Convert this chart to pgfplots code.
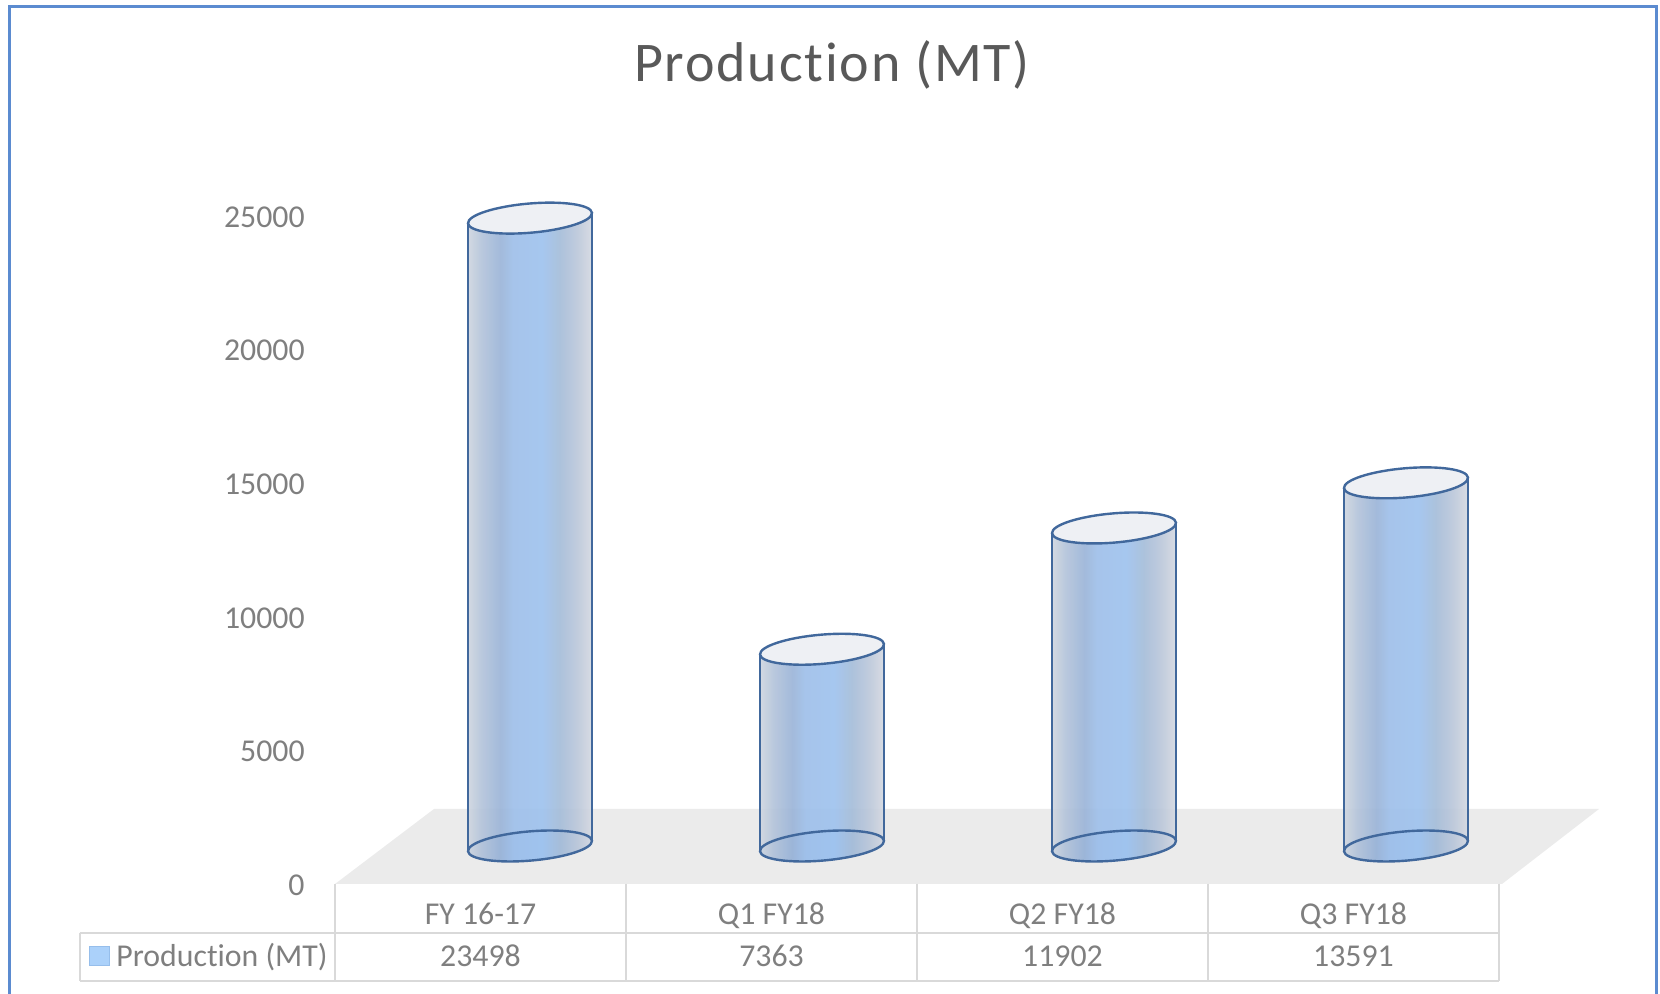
\documentclass[border=0pt]{standalone}
\usepackage{fontspec}
\setmainfont{Carlito}[Ligatures=NoCommon]
\newfontfamily\titlefont{Carlito}[LetterSpace=3.3,Ligatures=NoCommon]
\usepackage{pgfplots}
\pgfplotsset{compat=1.18}
\definecolor{txt}{HTML}{7F7F7F}
\definecolor{ttl}{HTML}{595959}
\definecolor{grid}{HTML}{D9D9D9}
\definecolor{floorc}{HTML}{EBEBEB}
\definecolor{frm}{HTML}{5B8BD0}
\definecolor{edge}{HTML}{41689C}
\definecolor{lid}{HTML}{EEF0F4}
\definecolor{swf}{HTML}{ABD1FA}
\definecolor{swd}{HTML}{96BEEB}
\definecolor{cA}{HTML}{CFD6E0}
\definecolor{cB}{HTML}{B4C4DA}
\definecolor{cC}{HTML}{9CB5D8}
\definecolor{cD}{HTML}{9FC0EA}
\definecolor{cE}{HTML}{9FC3EE}
\definecolor{cF}{HTML}{A6BDD9}
\definecolor{cG}{HTML}{BCC8DA}
\definecolor{cH}{HTML}{D5D9E2}
\pgfdeclarehorizontalshading{cyl}{100bp}{
  color(0bp)=(cA);
  color(25bp)=(cA);
  color(30.5bp)=(cB);
  color(38bp)=(cC);
  color(43.5bp)=(cD);
  color(55bp)=(cE);
  color(62bp)=(cF);
  color(69bp)=(cG);
  color(75bp)=(cH);
  color(100bp)=(cH)}
% Lid and foot of a cylinder: semi-axes 62.2 px and 14.6 px, tilted 4.9 degrees (1 px = 0.5 pt)
\pgfdeclareplotmark{lid}{%
  \pgfpathellipse{\pgfpointorigin}{\pgfpoint{30.99pt}{2.645pt}}{\pgfpoint{-0.62pt}{7.27pt}}%
  \pgfusepathqfillstroke}
\pgfdeclareplotmark{foot}{%
  \pgfpathellipse{\pgfpointorigin}{\pgfpoint{30.99pt}{2.645pt}}{\pgfpoint{-0.62pt}{7.27pt}}%
  \pgfshadepath{cyl}{0}%
  \pgfusepathqstroke}
\begin{document}
\begin{tikzpicture}
\path[use as bounding box] (0pt,0pt) rectangle (830pt,497pt);
\begin{scope}[x=0.5pt,y=-0.5pt,shift={(0pt,497pt)}]
  \fill[floorc] (335,884) -- (1502,884) -- (1599,809) -- (434,809) -- cycle;
  \draw[frm,line width=1.5pt] (9,994) -- (9,6.5) -- (1656,6.5) -- (1656,994);
  \draw[grid,line width=1pt] (79.5,933) -- (1499,933) (79.5,981) -- (1499,981)
    (79.5,933) -- (79.5,981)
    (335,884) -- (335,981) (626,884) -- (626,981) (917,884) -- (917,981)
    (1208,884) -- (1208,981) (1499,884) -- (1499,981);
  \filldraw[fill=swf,draw=swd,line width=0.5pt] (89,947) rectangle (109,966);
  \node[text=txt,font=\fontsize{15.9pt}{18pt}\selectfont,anchor=west,inner sep=0pt] at (116,957) {Production (MT)};
  \node[text=ttl,font=\titlefont\fontsize{28pt}{32pt}\selectfont,inner sep=0pt] at (832,65) {Production (MT)};
\end{scope}
\begin{axis}[
  at={(167.5pt,55pt)}, anchor=south west,
  scale only axis, width=582pt, height=353pt,
  xmin=-0.5, xmax=3.5, ymin=-1422, ymax=25000,
  axis line style={draw=none},
  clip=false,
  major tick length=0pt,
  xtick={0,1,2,3},
  xticklabels={FY 16-17,Q1 FY18,Q2 FY18,Q3 FY18},
  extra x ticks={0,1,2,3},
  extra x tick labels={23498,7363,11902,13591},
  extra x tick style={xticklabel style={yshift=-21pt}},
  xticklabel style={text=txt,font=\fontsize{15.9pt}{18pt}\selectfont,anchor=center,text height=11pt,text depth=3pt,yshift=-16.5pt,inner sep=0pt},
  ytick={0,5000,10000,15000,20000,25000},
  yticklabel style={text=txt,font=\fontsize{15.9pt}{18pt}\selectfont,anchor=east,xshift=-15pt,yshift=-19.5pt,inner sep=0pt},
  /pgf/number format/assume math mode=true,
  /pgf/number format/1000 sep={},
  scaled y ticks=false,
  grid=none,
]
% feet of the cylinders
\addplot[only marks,mark=foot,mark options={draw=edge,line width=1.2pt}] coordinates {(0.1701,0) (1.1735,0) (2.1770,0) (3.1804,0)};
% bodies
\addplot[draw=none,shading=cyl,fill opacity=0.93] coordinates {(-0.0430,-187) (0.3832,187) (0.3832,23685) (-0.0430,23311)} --cycle;
\addplot[draw=none,shading=cyl,fill opacity=0.93] coordinates {(0.9604,-187) (1.3866,187) (1.3866,7550) (0.9604,7176)} --cycle;
\addplot[draw=none,shading=cyl,fill opacity=0.93] coordinates {(1.9639,-187) (2.3901,187) (2.3901,12089) (1.9639,11715)} --cycle;
\addplot[draw=none,shading=cyl,fill opacity=0.93] coordinates {(2.9673,-187) (3.3935,187) (3.3935,13778) (2.9673,13404)} --cycle;
% sides
\addplot[edge,line width=1.2pt] coordinates {(-0.0430,-187) (-0.0430,23311)};
\addplot[edge,line width=1.2pt] coordinates {(0.3832,187) (0.3832,23685)};
\addplot[edge,line width=1.2pt] coordinates {(0.9604,-187) (0.9604,7176)};
\addplot[edge,line width=1.2pt] coordinates {(1.3866,187) (1.3866,7550)};
\addplot[edge,line width=1.2pt] coordinates {(1.9639,-187) (1.9639,11715)};
\addplot[edge,line width=1.2pt] coordinates {(2.3901,187) (2.3901,12089)};
\addplot[edge,line width=1.2pt] coordinates {(2.9673,-187) (2.9673,13404)};
\addplot[edge,line width=1.2pt] coordinates {(3.3935,187) (3.3935,13778)};
% lids at the values
\addplot[only marks,mark=lid,mark options={draw=edge,fill=lid,line width=1.2pt}] coordinates {(0.1701,23498) (1.1735,7363) (2.1770,11902) (3.1804,13591)};
\end{axis}
\end{tikzpicture}
\end{document}
